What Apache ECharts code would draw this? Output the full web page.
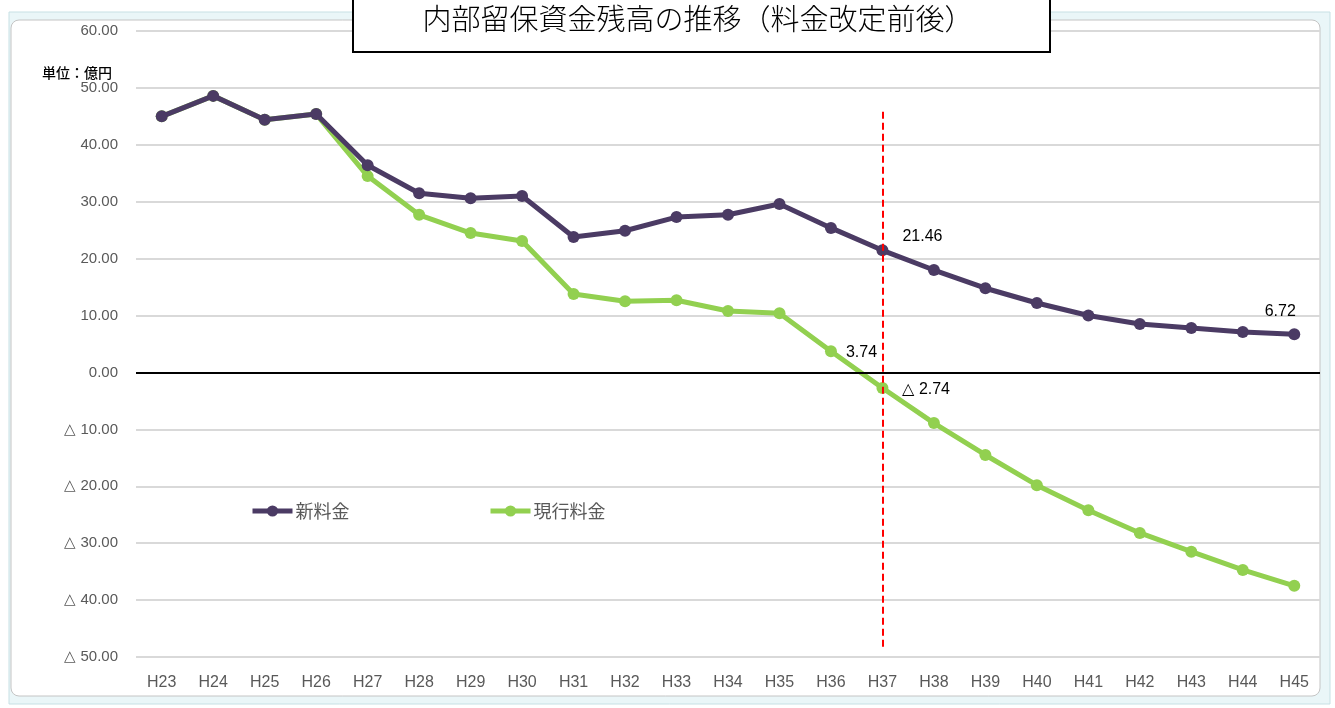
<!DOCTYPE html>
<html><head><meta charset="utf-8">
<script src="https://cdn.jsdelivr.net/npm/echarts@6/dist/echarts.min.js"></script>
<style>html,body{margin:0;padding:0;background:#fff;}#c{width:1335px;height:708px;}</style>
</head><body><div id="c"></div>
<script>
const categories = ['H23','H24','H25','H26','H27','H28','H29','H30','H31','H32','H33','H34','H35','H36','H37','H38','H39','H40','H41','H42','H43','H44','H45'];
const newRate = [45.0,48.6,44.4,45.4,36.4,31.5,30.6,31.0,23.8,24.9,27.3,27.7,29.6,25.4,21.46,18.0,14.8,12.2,10.0,8.5,7.8,7.1,6.72];
const currentRate = [45.0,48.6,44.4,45.4,34.5,27.7,24.5,23.1,13.8,12.5,12.7,10.8,10.4,3.74,-2.74,-8.9,-14.5,-19.8,-24.2,-28.2,-31.5,-34.7,-37.5];
const seriesNames = ['新料金','現行料金'];
const titleText = '内部留保資金残高の推移（料金改定前後）';
const unitText = '単位：億円';
const markerCategory = 'H37';

const fmt = v => v < 0 ? '△ ' + Math.abs(v).toFixed(2) : v.toFixed(2);
const numFont = '"Liberation Sans", "Noto Sans", sans-serif';
const jpFont = '"Noto Sans CJK JP", sans-serif';

function withLabels(arr, specs) {
  return arr.map((v, i) => {
    const s = specs[i];
    if (!s) return v;
    return { value: v, label: Object.assign({ show: true, formatter: p => fmt(p.value), color: '#000', fontSize: 16, fontFamily: numFont }, s) };
  });
}
const iH36 = categories.indexOf('H36'), iH37 = categories.indexOf('H37'), iH45 = categories.indexOf('H45');
const newSpecs = {}; newSpecs[iH37] = { position: 'right', offset: [9, -14] }; newSpecs[iH45] = { position: 'top', offset: [-14, -4] };
const curSpecs = {}; curSpecs[iH36] = { position: 'right', offset: [4, 1] }; curSpecs[iH37] = { position: 'right', offset: [9, 2] };

const legendBase = { padding: 0, itemWidth: 40, itemHeight: 14, itemGap: 4, lineStyle: { width: 5 }, textStyle: { fontSize: 18, color: '#595959', fontFamily: jpFont, padding: [0, 0, 0, -2] } };

const chart = echarts.init(document.getElementById('c'));
chart.setOption({
  animation: false,
  backgroundColor: '#ffffff',
  graphic: [
    { type: 'rect', z: -10, shape: { x: 9, y: 12, width: 1321, height: 692 }, style: { fill: '#eaf6f8', stroke: '#c7e0e4', lineWidth: 1 } },
    { type: 'rect', z: -9, shape: { x: 11, y: 20, width: 1309, height: 676, r: 8 }, style: { fill: '#ffffff', stroke: '#c4c4c4', lineWidth: 1 } },
    { type: 'rect', z: 50, shape: { x: 353, y: -2, width: 697, height: 54 }, style: { fill: '#ffffff', stroke: '#000', lineWidth: 2 } },
    { type: 'text', z: 51, x: 0, y: 0, style: { text: titleText, x: 698, y: 19, font: '300 29px ' + jpFont, fill: '#000', align: 'center', verticalAlign: 'middle' } },
    { type: 'text', z: 51, x: 0, y: 0, style: { text: unitText, x: 42, y: 73, font: '500 14px ' + jpFont, fill: '#000', verticalAlign: 'middle' } }
  ],
  grid: { left: 136, right: 15, top: 31, bottom: 51 },
  legend: [
    Object.assign({}, legendBase, { data: [seriesNames[0]], left: 250, top: 502 }),
    Object.assign({}, legendBase, { data: [seriesNames[1]], left: 488, top: 502 })
  ],
  xAxis: {
    type: 'category', data: categories, boundaryGap: true,
    axisLine: { show: false }, axisTick: { show: false },
    axisLabel: { color: '#595959', fontSize: 16, fontFamily: numFont, margin: 18 }
  },
  yAxis: {
    type: 'value', min: -50, max: 60, interval: 10,
    axisLine: { show: false }, axisTick: { show: false },
    axisLabel: { color: '#595959', fontSize: 15, fontFamily: numFont, margin: 18, formatter: fmt },
    splitLine: { lineStyle: { color: '#d9d9d9', width: 2 } }
  },
  series: [
    {
      name: seriesNames[0], type: 'line', data: withLabels(newRate, newSpecs), z: 3,
      symbol: 'circle', symbolSize: 12,
      lineStyle: { color: '#4b3b64', width: 5 }, itemStyle: { color: '#4b3b64' },
      markLine: {
        silent: true, symbol: ['none', 'none'], label: { show: false },
        data: [
          { yAxis: 0, lineStyle: { color: '#000', width: 2, type: 'solid' } },
          [{ coord: [markerCategory, 45.8], lineStyle: { color: '#ff0000', width: 2, type: [7, 4] } }, { coord: [markerCategory, -48.4] }]
        ]
      }
    },
    {
      name: seriesNames[1], type: 'line', data: withLabels(currentRate, curSpecs), z: 2,
      symbol: 'circle', symbolSize: 12,
      lineStyle: { color: '#92d050', width: 5 }, itemStyle: { color: '#92d050' }
    }
  ]
});
</script></body></html>
